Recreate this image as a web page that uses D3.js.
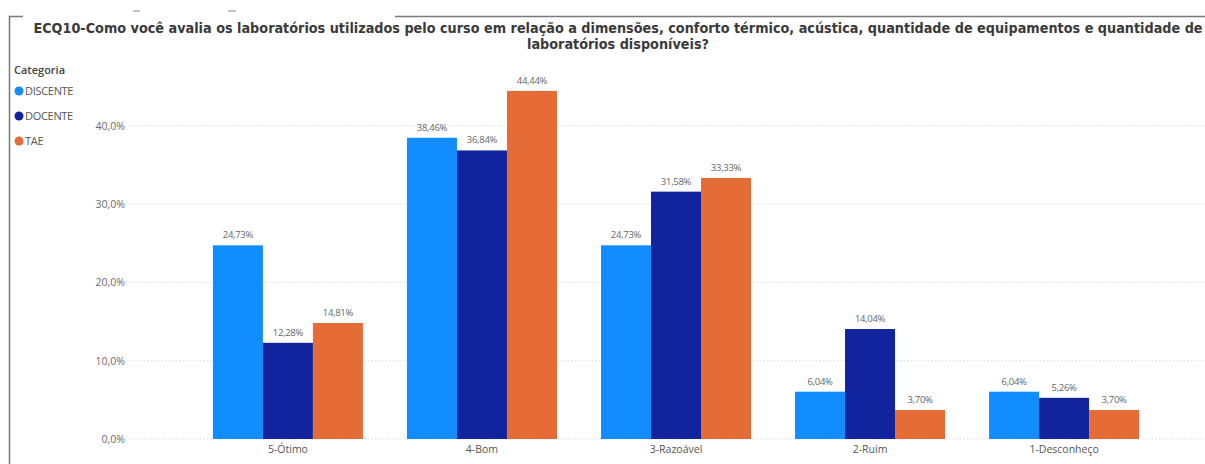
<!DOCTYPE html>
<html>
<head>
<meta charset="utf-8">
<script src="https://cdn.jsdelivr.net/npm/d3@7"></script>
<style>
  html, body { margin: 0; padding: 0; background: #ffffff; }
  svg { display: block; }
</style>
</head>
<body>
<svg id="chart" width="1205" height="464"></svg>
<script>
// Survey answers per rating, share of respondents in each group (%)
const categories = ["5-Ótimo", "4-Bom", "3-Razoável", "2-Ruim", "1-Desconheço"];
const seriesNames = ["DISCENTE", "DOCENTE", "TAE"];
const discente = [24.73, 38.46, 24.73, 6.04, 6.04];
const docente  = [12.28, 36.84, 31.58, 14.04, 5.26];
const tae      = [14.81, 44.44, 33.33, 3.70, 3.70];
const yTicks = [0, 10, 20, 30, 40];
const colors = ["#118DFF", "#12239E", "#E66C37"];
const titleLines = [
  "ECQ10-Como você avalia os laboratórios utilizados pelo curso em relação a dimensões, conforto térmico, acústica, quantidade de equipamentos e quantidade de",
  "laboratórios disponíveis?"
];

const seriesValues = [discente, docente, tae];
const rows = categories.map((c, i) => ({
  category: c,
  values: seriesNames.map((s, j) => ({ key: s, value: seriesValues[j][i], color: colors[j] }))
}));

const svg = d3.select("#chart");
const W = 1205, H = 464;
const fmt = v => d3.format(".2f")(v).replace(".", ",") + "%";
const fmtTick = v => d3.format(".1f")(v).replace(".", ",") + "%";

// Frame lines of the visual container
const frame = svg.append("g").attr("stroke", "#7a7a7a").attr("stroke-width", 1.5).attr("fill", "none");
frame.append("path").attr("d", "M9.5,464 V16.5 H23");
frame.append("path").attr("d", "M395,16.5 H1205");
svg.append("g").attr("stroke", "#9a9a9a").attr("stroke-width", 1.2)
  .selectAll("line").data([[133, 140], [228, 236]]).join("line")
  .attr("x1", d => d[0]).attr("x2", d => d[1]).attr("y1", 11).attr("y2", 11);

// Title, sized so the long first line spans the card width
const title = svg.append("text")
  .attr("x", 618).attr("text-anchor", "middle")
  .attr("font-family", "'DejaVu Sans Condensed', 'DejaVu Sans', sans-serif")
  .attr("font-weight", "bold").attr("fill", "#3a3a3a");
title.selectAll("tspan").data(titleLines).join("tspan")
  .attr("x", 618).attr("y", (d, i) => 33 + i * 16).text(d => d);
title.attr("font-size", 14);
const firstLen = title.select("tspan").node().getComputedTextLength();
title.attr("font-size", 14 * 1170 / firstLen);

// Scales
const x0 = d3.scaleBand().domain(categories).range([191, 1161]).paddingInner(0.227).paddingOuter(0.113);
const x1 = d3.scaleBand().domain(seriesNames).range([0, x0.bandwidth()]).padding(0);
const y = d3.scaleLinear().domain([0, 40]).range([439, 125.7]);

// Gridlines
svg.append("g").selectAll("line").data(yTicks).join("line")
  .attr("x1", 130).attr("x2", W)
  .attr("y1", d => y(d)).attr("y2", d => y(d))
  .attr("stroke", "#dedede").attr("stroke-width", 1).attr("stroke-dasharray", "1.5,2");

// Y axis
const yAxis = svg.append("g").attr("transform", "translate(125,0)")
  .call(d3.axisLeft(y).tickValues(yTicks).tickFormat(fmtTick).tickSize(0).tickPadding(0));
yAxis.select(".domain").remove();
yAxis.selectAll("text")
  .attr("font-family", "'Open Sans', sans-serif").attr("font-size", 10.5).attr("fill", "#6b6b6b");

// X axis
const xAxis = svg.append("g").attr("transform", "translate(0,443)")
  .call(d3.axisBottom(x0).tickSize(0).tickPadding(3));
xAxis.select(".domain").remove();
xAxis.selectAll("text")
  .attr("font-family", "'Open Sans', sans-serif").attr("font-size", 10.5).attr("fill", "#555555");

// Bars
const groups = svg.append("g").selectAll("g").data(rows).join("g")
  .attr("transform", d => `translate(${x0(d.category)},0)`);
groups.selectAll("rect").data(d => d.values).join("rect")
  .attr("x", d => x1(d.key)).attr("width", x1.bandwidth())
  .attr("y", d => y(d.value)).attr("height", d => y(0) - y(d.value))
  .attr("fill", d => d.color);

// Value labels
groups.selectAll("text").data(d => d.values).join("text")
  .attr("x", d => x1(d.key) + x1.bandwidth() / 2)
  .attr("y", d => y(d.value) - 7)
  .attr("text-anchor", "middle")
  .attr("font-family", "'Open Sans', sans-serif").attr("font-size", 9.5)
  .attr("letter-spacing", -0.3).attr("fill", "#666666")
  .text(d => fmt(d.value));

// Legend
const legend = svg.append("g").attr("font-family", "'Open Sans', sans-serif");
legend.append("text").attr("x", 14).attr("y", 74)
  .attr("font-size", 11).attr("font-weight", 600).attr("fill", "#444444").text("Categoria");
const items = legend.selectAll("g.item").data(seriesNames).join("g").attr("class", "item")
  .attr("transform", (d, i) => `translate(0,${91 + i * 25})`);
items.append("circle").attr("cx", 19).attr("cy", 0).attr("r", 4.5).attr("fill", (d, i) => colors[i]);
items.append("text").attr("x", 25).attr("y", 4).attr("font-size", 11)
  .attr("letter-spacing", -0.3).attr("fill", "#555555").text(d => d);
</script>
</body>
</html>
